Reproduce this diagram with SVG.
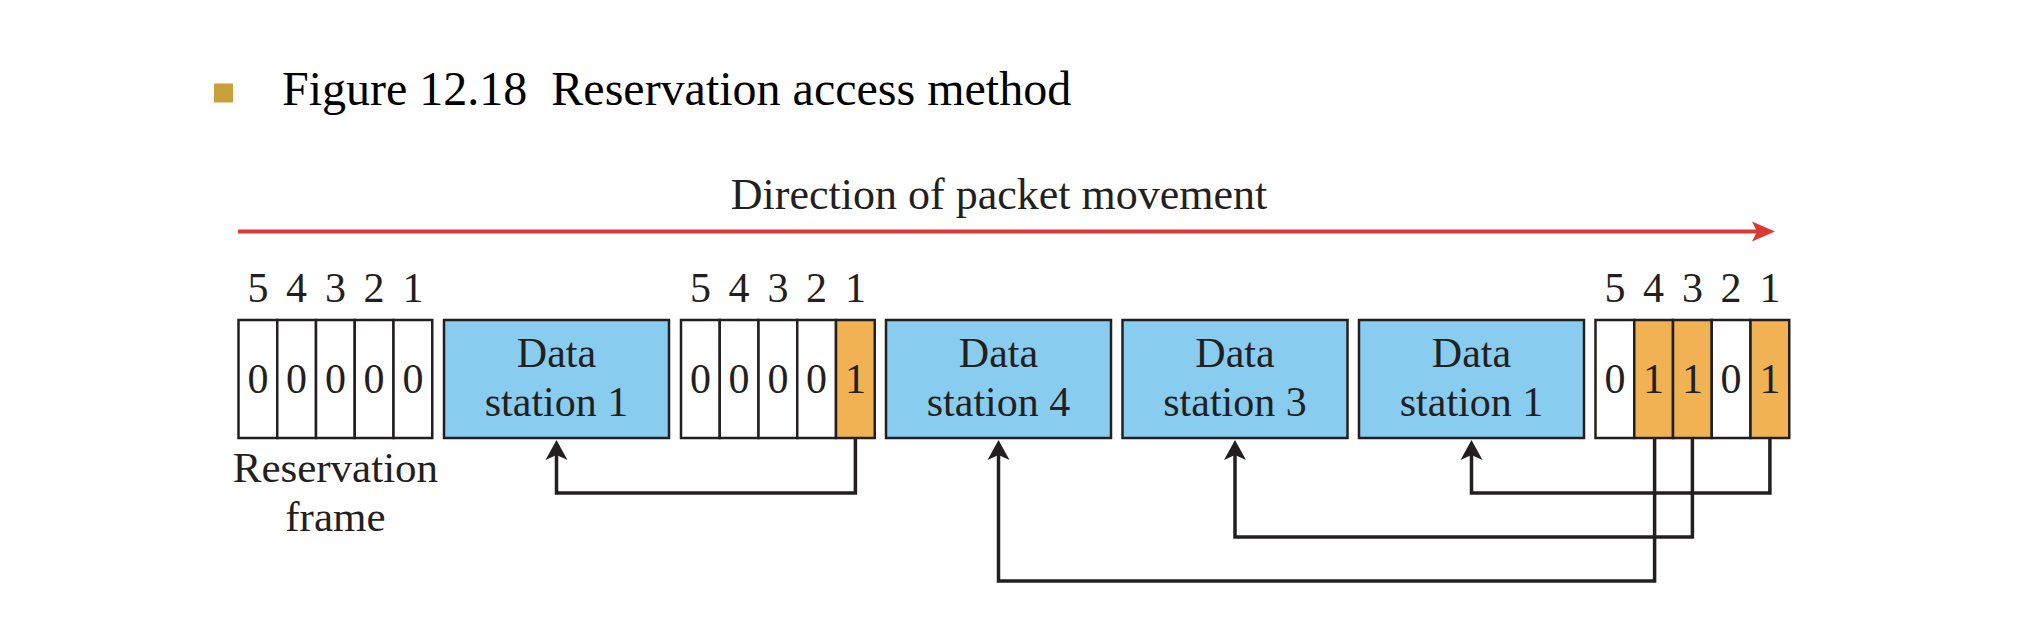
<svg xmlns="http://www.w3.org/2000/svg" width="2020" height="632" viewBox="0 0 2020 632">
<style>
text{font-family:"Liberation Serif","Times New Roman",serif;fill:#231f20}
.t{font-size:42px;text-anchor:middle}
.cell{fill:#ffffff;stroke:#231f20;stroke-width:2.5}
.on{fill:#f0b252;stroke:#231f20;stroke-width:2.5}
.box{fill:#88cdf0;stroke:#231f20;stroke-width:2.5}
.con{fill:none;stroke:#231f20;stroke-width:3.5;marker-end:url(#ah)}
</style>
<defs>
<marker id="ah" markerUnits="userSpaceOnUse" viewBox="-10 -12 24 24" refX="0" refY="0" markerWidth="24" markerHeight="24" orient="auto">
<path d="M12,0 L-8,-11 L-3,0 L-8,11 Z" fill="#231f20"/>
</marker>
</defs>
<rect width="2020" height="632" fill="#ffffff"/>
<g id="title">
<rect x="214" y="83.5" width="19" height="19" fill="#c9a03a"/>
<text x="282" y="105" xml:space="preserve" style="font-size:48px;fill:#000">Figure 12.18  Reservation access method</text>
</g>
<g id="direction">
<text x="999" y="209" style="font-size:44px;text-anchor:middle">Direction of packet movement</text>
<line x1="238" y1="231.5" x2="1758" y2="231.5" stroke="#d93a35" stroke-width="4"/>
<path d="M1775,231.5 L1752,221.5 L1757,231.5 L1752,241.5 Z" fill="#d93a35"/>
</g>
<g id="frame1">
<text class="t" x="257.9" y="302">5</text><text class="t" x="296.6" y="302">4</text><text class="t" x="335.4" y="302">3</text><text class="t" x="374.1" y="302">2</text><text class="t" x="412.9" y="302">1</text>
<rect class="cell" x="238.5" y="320" width="38.75" height="118"/>
<rect class="cell" x="277.25" y="320" width="38.75" height="118"/>
<rect class="cell" x="316" y="320" width="38.75" height="118"/>
<rect class="cell" x="354.75" y="320" width="38.75" height="118"/>
<rect class="cell" x="393.5" y="320" width="38.75" height="118"/>
<text class="t" x="257.9" y="393">0</text><text class="t" x="296.6" y="393">0</text><text class="t" x="335.4" y="393">0</text><text class="t" x="374.1" y="393">0</text><text class="t" x="412.9" y="393">0</text>
<text class="t" x="335.4" y="482" style="font-size:43px">Reservation</text>
<text class="t" x="335.4" y="531" style="font-size:43px">frame</text>
</g>
<g id="data1a">
<rect class="box" x="444" y="320" width="225" height="118"/>
<text class="t" x="556.5" y="367">Data</text>
<text class="t" x="556.5" y="416">station 1</text>
</g>
<g id="frame2">
<text class="t" x="700.4" y="302">5</text><text class="t" x="739.1" y="302">4</text><text class="t" x="777.9" y="302">3</text><text class="t" x="816.6" y="302">2</text><text class="t" x="855.4" y="302">1</text>
<rect class="cell" x="681" y="320" width="38.75" height="118"/>
<rect class="cell" x="719.75" y="320" width="38.75" height="118"/>
<rect class="cell" x="758.5" y="320" width="38.75" height="118"/>
<rect class="cell" x="797.25" y="320" width="38.75" height="118"/>
<rect class="on" x="836" y="320" width="38.75" height="118"/>
<text class="t" x="700.4" y="393">0</text><text class="t" x="739.1" y="393">0</text><text class="t" x="777.9" y="393">0</text><text class="t" x="816.6" y="393">0</text><text class="t" x="855.4" y="393">1</text>
</g>
<g id="data4">
<rect class="box" x="886" y="320" width="225" height="118"/>
<text class="t" x="998.5" y="367">Data</text>
<text class="t" x="998.5" y="416">station 4</text>
</g>
<g id="data3">
<rect class="box" x="1122.5" y="320" width="225" height="118"/>
<text class="t" x="1235" y="367">Data</text>
<text class="t" x="1235" y="416">station 3</text>
</g>
<g id="data1b">
<rect class="box" x="1359" y="320" width="225" height="118"/>
<text class="t" x="1471.5" y="367">Data</text>
<text class="t" x="1471.5" y="416">station 1</text>
</g>
<g id="frame3">
<text class="t" x="1614.9" y="302">5</text><text class="t" x="1653.6" y="302">4</text><text class="t" x="1692.4" y="302">3</text><text class="t" x="1731.1" y="302">2</text><text class="t" x="1769.9" y="302">1</text>
<rect class="cell" x="1595.5" y="320" width="38.75" height="118"/>
<rect class="on" x="1634.25" y="320" width="38.75" height="118"/>
<rect class="on" x="1673" y="320" width="38.75" height="118"/>
<rect class="cell" x="1711.75" y="320" width="38.75" height="118"/>
<rect class="on" x="1750.5" y="320" width="38.75" height="118"/>
<text class="t" x="1614.9" y="393">0</text><text class="t" x="1653.6" y="393">1</text><text class="t" x="1692.4" y="393">1</text><text class="t" x="1731.1" y="393">0</text><text class="t" x="1769.9" y="393">1</text>
</g>
<g id="connectors">
<path class="con" d="M855.4,439 V493 H556.5 V452"/>
<path class="con" d="M1769.9,439 V493 H1471.5 V452"/>
<path class="con" d="M1692.4,439 V537 H1235 V452"/>
<path class="con" d="M1654.6,439 V581 H998.5 V452"/>
</g>
</svg>
